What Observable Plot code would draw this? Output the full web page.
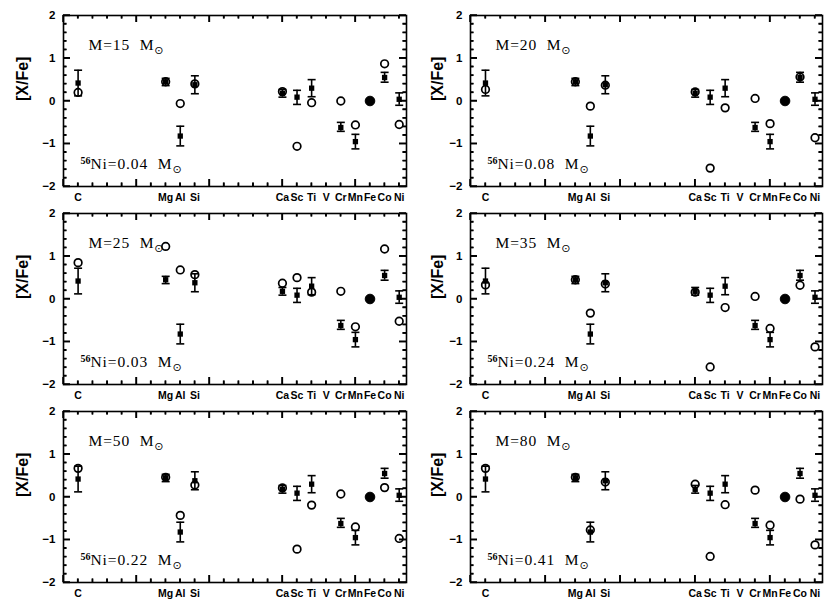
<!DOCTYPE html>
<html><head><meta charset="utf-8">
<script src="https://cdn.jsdelivr.net/npm/d3@7"></script>
<script src="https://cdn.jsdelivr.net/npm/@observablehq/plot@0.6"></script>
<style>
body{margin:0;background:#fff;}
#fig{position:relative;width:830px;height:606px;background:#fff;}
.panel{position:absolute;}
.panel svg{overflow:visible;}
</style></head><body><div id="fig"></div>
<script>
// element axis
const elements = ["C","Mg","Al","Si","Ca","Sc","Ti","V","Cr","Mn","Fe","Co","Ni"];
const atomicNumbers = [6,12,13,14,20,21,22,23,24,25,26,27,28];
// observed abundances (filled squares with error bars)
const obsElements = ["C","Mg","Al","Si","Ca","Sc","Ti","Cr","Mn","Co","Ni"];
const obsValue = [0.42,0.45,-0.82,0.38,0.18,0.09,0.30,-0.62,-0.95,0.55,0.04];
const obsLow   = [0.12,0.36,-1.05,0.17,0.09,-0.08,0.10,-0.71,-1.12,0.44,-0.10];
const obsHigh  = [0.72,0.53,-0.59,0.59,0.27,0.25,0.50,-0.50,-0.78,0.67,0.19];
// reference element (filled circle)
const refElements = ["Fe"];
const refValue = [0];
// model yields (open circles)
const modelElements = ["C","Mg","Al","Si","Ca","Sc","Ti","Cr","Mn","Co","Ni"];
const model15 = [0.20,0.45,-0.06,0.40,0.22,-1.06,-0.04,0.00,-0.56,0.87,-0.55];
const model20 = [0.27,0.45,-0.12,0.37,0.21,-1.57,-0.16,0.06,-0.53,0.56,-0.86];
const model25 = [0.85,1.23,0.68,0.57,0.37,0.50,0.16,0.18,-0.65,1.17,-0.52];
const model35 = [0.33,0.45,-0.33,0.35,0.16,-1.59,-0.20,0.06,-0.69,0.32,-1.12];
const model50 = [0.67,0.46,-0.43,0.28,0.21,-1.22,-0.19,0.07,-0.70,0.22,-0.97];
const model80 = [0.67,0.46,-0.77,0.35,0.30,-1.39,-0.18,0.16,-0.66,-0.05,-1.12];
const masses = [15,20,25,35,50,80];
const ni56 = ["0.04","0.08","0.03","0.24","0.22","0.41"];
const models = [model15,model20,model25,model35,model50,model80];
// ticks
const yMajor = [-2,-1,0,1,2];
const yMinor = [-1.8,-1.6,-1.4,-1.2,-0.8,-0.6,-0.4,-0.2,0.2,0.4,0.6,0.8,1.2,1.4,1.6,1.8];
const xMajor = [5,10,15,20,25];
const xMinor = [6,7,8,9,11,12,13,14,16,17,18,19,21,22,23,24,26,27,28];

const Z = Object.fromEntries(elements.map((e,i)=>[e,atomicNumbers[i]]));
const labelRows = elements.map((e,i)=>({el:e, z:atomicNumbers[i]}));
const obsRows = obsElements.map((e,i)=>({el:e, z:Z[e], v:obsValue[i], lo:obsLow[i], hi:obsHigh[i]}));
const refRows = refElements.map((e,i)=>({el:e, z:Z[e], v:refValue[i]}));

const capSymbol = {draw(ctx, size){ const w = Math.sqrt(size/Math.PI); ctx.moveTo(-w,0); ctx.lineTo(w,0); }};
const MAJ = 7, MIN = 3.5, TW = 1.4;
const W = 415, H = 198, MT = 15, MB = 12;
const XD = [5, 28.5], YD = [-2, 2];

// inward ticks as rules whose ends come from the scale domains
function inwardTicks(fw, fh){
  const kx = (XD[1] - XD[0]) / fw, ky = (YD[1] - YD[0]) / fh;
  const o = {stroke: "black", strokeWidth: TW};
  const yTicks = (vals, len) => [
    Plot.ruleY(vals, {...o, y: d => d, x1: () => XD[0], x2: () => XD[0] + len * kx}),
    Plot.ruleY(vals, {...o, y: d => d, x1: () => XD[1] - len * kx, x2: () => XD[1]})
  ];
  const xTicks = (vals, len) => [
    Plot.ruleX(vals, {...o, x: d => d, y1: () => YD[0], y2: () => YD[0] + len * ky}),
    Plot.ruleX(vals, {...o, x: d => d, y1: () => YD[1] - len * ky, y2: () => YD[1]})
  ];
  return [...yTicks(yMajor, MAJ), ...yTicks(yMinor, MIN), ...xTicks(xMajor, MAJ), ...xTicks(xMinor, MIN)];
}

function panel(k){
  const col = k % 2, row = Math.floor(k/2);
  const mL = col === 0 ? 63 : 55, mR = col === 0 ? 9 : 8;
  const fw = W - mL - mR, fh = H - MT - MB;
  const modelRows = modelElements.map((e,i)=>({el:e, z:Z[e], v:models[k][i]}));
  const annFont = "'Liberation Serif', 'Times New Roman', serif";
  const chart = Plot.plot({
    width: W, height: H,
    marginLeft: mL, marginRight: mR, marginTop: MT, marginBottom: MB,
    style: {fontFamily: "'Liberation Sans', Arial, sans-serif", background: "transparent", overflow: "visible"},
    x: {domain: XD, axis: null},
    y: {domain: YD},
    marks: [
      Plot.axisY(yMajor, {anchor: "left", tickSize: 0, tickPadding: 8, label: null, fontWeight: "bold", fontSize: 11.5}),
      Plot.frame({stroke: "black", strokeWidth: 1.6}),
      ...inwardTicks(fw, fh),
      Plot.text(labelRows, {x: "z", text: "el", frameAnchor: "bottom", dy: 7, lineAnchor: "top", fontWeight: "bold", fontSize: 10.5}),
      Plot.text(["[X/Fe]"], {frameAnchor: "left", dx: col === 0 ? -41 : -33, rotate: -90, fontWeight: "bold", fontSize: 16, text: d => d}),
      // error bars
      Plot.ruleX(obsRows, {x: "z", y1: "lo", y2: "hi", stroke: "black", strokeWidth: 1.6}),
      Plot.dot(obsRows, {x: "z", y: "lo", symbol: capSymbol, r: 4, stroke: "black", strokeWidth: 1.6, fill: "none"}),
      Plot.dot(obsRows, {x: "z", y: "hi", symbol: capSymbol, r: 4, stroke: "black", strokeWidth: 1.6, fill: "none"}),
      Plot.dot(obsRows, {x: "z", y: "v", symbol: "square", r: 3, fill: "black", stroke: "none"}),
      // model
      Plot.dot(modelRows, {x: "z", y: "v", r: 3.8, stroke: "black", strokeWidth: 1.7, fill: "none"}),
      Plot.dot(refRows, {x: "z", y: "v", r: 4.8, fill: "black", stroke: "black", strokeWidth: 1}),
      // annotations
      Plot.text([`M=${masses[k]}  M`], {text: d => d, frameAnchor: "top-left", dx: 25, dy: 34, textAnchor: "start", lineAnchor: "bottom", fontSize: 15.5, fontFamily: annFont}),
      Plot.text([`Ni=${ni56[k]}  M`], {text: d => d, frameAnchor: "bottom-left", dx: 25, dy: -18, textAnchor: "start", lineAnchor: "bottom", fontSize: 15.5, fontFamily: annFont})
    ]
  });
  // add solar symbol subscripts and 56 superscripts
  const ns = "http://www.w3.org/2000/svg";
  chart.querySelectorAll("text").forEach(t => {
    const s = t.textContent;
    if (/^(M=|Ni=)/.test(s) && s.endsWith(" M")) {
      t.setAttribute("letter-spacing", "0.9");
      if (s.startsWith("Ni=")) {
        t.textContent = "";
        const sup = document.createElementNS(ns, "tspan");
        sup.setAttribute("font-size", "10");
        sup.setAttribute("dy", "-5");
        sup.setAttribute("dx", "-8");
        sup.setAttribute("letter-spacing", "0");
        sup.setAttribute("font-weight", "bold");
        sup.textContent = "56";
        const main = document.createElementNS(ns, "tspan");
        main.setAttribute("dy", "5");
        main.textContent = s;
        t.appendChild(sup); t.appendChild(main);
      }
      const sun = document.createElementNS(ns, "tspan");
      sun.setAttribute("font-size", "11");
      sun.setAttribute("dy", "4");
      sun.setAttribute("font-family", "'DejaVu Sans', sans-serif");
      sun.textContent = "\u2299";
      t.appendChild(sun);
    }
  });
  // also append the inward ticks directly from the chart's own scales, on top of everything
  const sx = chart.scale("x"), sy = chart.scale("y");
  const xs = d3.scaleLinear(sx.domain, sx.range), ys = d3.scaleLinear(sy.domain, sy.range);
  const L = mL, R = W - mR, T = MT, B = H - MB;
  const p = d3.path();
  const yt = (v, len) => { const yy = ys(v); p.moveTo(L, yy); p.lineTo(L + len, yy); p.moveTo(R, yy); p.lineTo(R - len, yy); };
  const xt = (v, len) => { const xx = xs(v); p.moveTo(xx, B); p.lineTo(xx, B - len); p.moveTo(xx, T); p.lineTo(xx, T + len); };
  yMajor.forEach(v => yt(v, MAJ)); yMinor.forEach(v => yt(v, MIN));
  xMajor.forEach(v => xt(v, MAJ)); xMinor.forEach(v => xt(v, MIN));
  d3.select(chart).append("path").attr("d", p.toString()).attr("fill", "none")
    .attr("stroke", "#000").attr("stroke-width", TW);
  const div = document.createElement("div");
  div.className = "panel";
  div.style.left = (col * W) + "px";
  div.style.top = (row * H) + "px";
  div.appendChild(chart);
  document.getElementById("fig").appendChild(div);
}
for (let k = 0; k < 6; k++) panel(k);
</script>
</body></html>
